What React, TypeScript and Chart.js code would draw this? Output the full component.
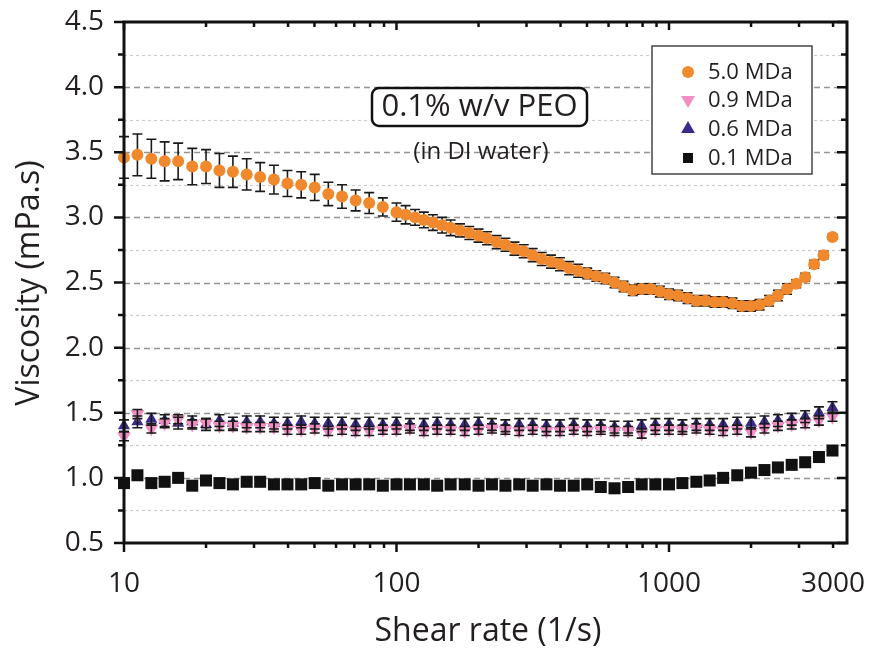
import React, { useEffect, useRef } from "react";
import { Chart, registerables } from "chart.js";

Chart.register(...registerables);

const FONT = "'Open Sans', 'Noto Sans', sans-serif";
const TEXT = "#231f20";

// Shear rates (1/s) for the 0.9, 0.6 and 0.1 MDa series
const xDense = [
  10, 11.2, 12.6, 14.1, 15.8, 17.8, 20, 22.4, 25.1, 28.2, 31.6, 35.5, 39.8, 44.7, 50.1, 56.2, 63.1, 70.8, 79.4, 89.1,
  100, 112, 126, 141, 158, 178, 200, 224, 251, 282, 316, 355, 398, 447, 501, 562, 631, 708, 794, 891,
  1000, 1120, 1260, 1410, 1580, 1780, 2000, 2240, 2510, 2820, 3160, 3550, 3980,
];
// Shear rates (1/s) for the 5.0 MDa series
const xOrange = [
  10, 11.2, 12.6, 14.1, 15.8, 17.8, 20, 22.4, 25.1, 28.2, 31.6, 35.5, 39.8, 44.7, 50.1, 56.2, 63.1, 70.8, 79.4, 89.1,
  100, 108, 117, 126, 136, 147, 158, 171, 185, 200, 215, 233, 251, 271, 293, 316, 341, 369, 398, 430,
  464, 501, 541, 584, 631, 681, 736, 794, 858, 926,
  1000, 1080, 1170, 1260, 1360, 1470, 1580, 1710, 1850, 2000, 2150, 2330, 2510, 2710, 2930, 3160, 3410, 3690, 3980,
];

const visc50 = [
  3.46, 3.48, 3.45, 3.43, 3.43, 3.39, 3.39, 3.36, 3.35, 3.33, 3.31, 3.29, 3.26, 3.25, 3.23, 3.18, 3.16, 3.13, 3.11, 3.08,
  3.04, 3.02, 3.0, 2.98, 2.96, 2.94, 2.92, 2.9, 2.88, 2.86, 2.84, 2.81, 2.79, 2.76, 2.74, 2.71, 2.68, 2.66, 2.64, 2.61,
  2.59, 2.57, 2.55, 2.53, 2.5, 2.47, 2.44, 2.45, 2.45, 2.43,
  2.41, 2.4, 2.38, 2.36, 2.36, 2.35, 2.35, 2.34, 2.32, 2.32, 2.33, 2.36, 2.4, 2.45, 2.49, 2.54, 2.64, 2.71, 2.85,
];
const err50 = [
  0.16, 0.16, 0.15, 0.15, 0.14, 0.14, 0.13, 0.13, 0.12, 0.12, 0.11, 0.11, 0.1, 0.1, 0.1, 0.09, 0.09, 0.08, 0.08, 0.07,
  0.07, 0.07, 0.06, 0.06, 0.06, 0.06, 0.06, 0.05, 0.05, 0.05, 0.05, 0.05, 0.05, 0.05, 0.05, 0.05, 0.05, 0.05, 0.05, 0.05,
  0.05, 0.04, 0.04, 0.04, 0.04, 0.04, 0.04, 0.04, 0.04, 0.04,
  0.04, 0.04, 0.04, 0.04, 0.04, 0.04, 0.04, 0.04, 0.04, 0.04, 0.04, 0.04, 0.04, 0.04, 0.03, 0.03, 0.03, 0.03, 0.02,
];
const visc09 = [
  1.32, 1.49, 1.38, 1.42, 1.45, 1.41, 1.42, 1.4, 1.4, 1.39, 1.39, 1.39, 1.37, 1.37, 1.38, 1.36, 1.37, 1.36, 1.36, 1.37,
  1.37, 1.38, 1.36, 1.37, 1.37, 1.36, 1.37, 1.38, 1.37, 1.36, 1.37, 1.36, 1.36, 1.37, 1.36, 1.37, 1.36, 1.36, 1.34, 1.37,
  1.37, 1.37, 1.38, 1.37, 1.36, 1.37, 1.35, 1.38, 1.4, 1.41, 1.42, 1.44, 1.47,
];
const visc06 = [
  1.4, 1.43, 1.45, 1.44, 1.42, 1.43, 1.41, 1.44, 1.42, 1.43, 1.43, 1.42, 1.42, 1.43, 1.42, 1.42, 1.42, 1.41, 1.42, 1.41,
  1.42, 1.41, 1.41, 1.42, 1.41, 1.41, 1.42, 1.41, 1.4, 1.41, 1.41, 1.4, 1.4, 1.41, 1.4, 1.4, 1.39, 1.39, 1.4, 1.41,
  1.41, 1.4, 1.41, 1.41, 1.41, 1.42, 1.42, 1.43, 1.44, 1.45, 1.47, 1.5, 1.54,
];
const visc01 = [
  0.96, 1.02, 0.96, 0.97, 1.0, 0.94, 0.98, 0.96, 0.95, 0.97, 0.97, 0.95, 0.95, 0.95, 0.96, 0.94, 0.95, 0.95, 0.95, 0.94,
  0.95, 0.95, 0.95, 0.94, 0.95, 0.95, 0.94, 0.95, 0.94, 0.95, 0.94, 0.95, 0.94, 0.94, 0.95, 0.93, 0.92, 0.93, 0.95, 0.95,
  0.95, 0.96, 0.97, 0.98, 1.0, 1.02, 1.04, 1.06, 1.08, 1.1, 1.12, 1.16, 1.21,
];
const err06 = 0.045;
const err09 = 0.035;

const yMajorTicks = [0.5, 1.0, 1.5, 2.0, 2.5, 3.0, 3.5, 4.0, 4.5];
const yMinorTicks = [0.75, 1.25, 1.75, 2.25, 2.75, 3.25, 3.75, 4.25];
const xTickValues = [10, 100, 1000, 4000];
const xTickLabels = ["10", "100", "1000", "3000"];
const xMajorMarks = [10, 100, 1000];
const xMinorMarks = [20, 30, 40, 50, 60, 70, 80, 90, 200, 300, 400, 500, 600, 700, 800, 900, 2000, 3000, 4000];

const seriesNames = ["5.0 MDa", "0.9 MDa", "0.6 MDa", "0.1 MDa"];
const seriesColors = ["#f0892e", "#f08dc3", "#3b2a8a", "#111111"];

function pts(xs: number[], ys: number[]) {
  return xs.map((x, i) => ({ x, y: ys[i] }));
}

function marker(ctx: CanvasRenderingContext2D, kind: string, x: number, y: number, r: number, color: string) {
  ctx.fillStyle = color;
  ctx.beginPath();
  if (kind === "circle") {
    ctx.arc(x, y, r, 0, Math.PI * 2);
  } else if (kind === "tri") {
    ctx.moveTo(x, y - r);
    ctx.lineTo(x + r * 0.866, y + r * 0.5);
    ctx.lineTo(x - r * 0.866, y + r * 0.5);
    ctx.closePath();
  } else if (kind === "itri") {
    ctx.moveTo(x, y + r);
    ctx.lineTo(x + r * 0.866, y - r * 0.5);
    ctx.lineTo(x - r * 0.866, y - r * 0.5);
    ctx.closePath();
  } else {
    ctx.rect(x - r, y - r, 2 * r, 2 * r);
  }
  ctx.fill();
}

function errBars(ctx: CanvasRenderingContext2D, sx: any, sy: any, xs: number[], ys: number[], errs: number[] | number, cap: number, lw: number) {
  ctx.strokeStyle = "#1a1a1a";
  ctx.lineWidth = lw;
  ctx.beginPath();
  xs.forEach((xv, i) => {
    const e = Array.isArray(errs) ? errs[i] : errs;
    const px = sx.getPixelForValue(xv);
    const top = sy.getPixelForValue(ys[i] + e);
    const bot = sy.getPixelForValue(ys[i] - e);
    ctx.moveTo(px, top);
    ctx.lineTo(px, bot);
    ctx.moveTo(px - cap, top);
    ctx.lineTo(px + cap, top);
    ctx.moveTo(px - cap, bot);
    ctx.lineTo(px + cap, bot);
  });
  ctx.stroke();
}

const decor = {
  id: "decor",
  beforeDatasetsDraw(chart: any) {
    const { ctx, chartArea: a, scales } = chart;
    const sx = scales.x;
    const sy = scales.y;
    ctx.save();
    const all = [...yMajorTicks.map((v) => [v, 1]), ...yMinorTicks.map((v) => [v, 0])];
    for (const [v, major] of all) {
      if (v <= 0.5 || v >= 4.5) continue;
      const py = Math.round(sy.getPixelForValue(v)) + 0.5;
      ctx.strokeStyle = major ? "#959595" : "#cccccc";
      ctx.lineWidth = major ? 1.5 : 1.2;
      ctx.setLineDash(major ? [6, 4] : [3, 3]);
      ctx.beginPath();
      ctx.moveTo(a.left, py);
      ctx.lineTo(a.right, py);
      ctx.stroke();
    }
    ctx.setLineDash([]);
    errBars(ctx, sx, sy, xOrange, visc50, err50, 5, 1.6);
    ctx.restore();
  },
  afterDatasetsDraw(chart: any) {
    const { ctx, chartArea: a, scales } = chart;
    const sx = scales.x;
    const sy = scales.y;
    ctx.save();
    errBars(ctx, sx, sy, xDense, visc06, err06, 5, 1.6);
    errBars(ctx, sx, sy, xDense, visc09, err09, 5, 1.6);

    // frame
    ctx.strokeStyle = "#111";
    ctx.lineWidth = 3;
    ctx.strokeRect(a.left, a.top, a.right - a.left, a.bottom - a.top);

    // tick marks
    ctx.lineWidth = 2.5;
    ctx.beginPath();
    for (const v of xMajorMarks) {
      const px = sx.getPixelForValue(v);
      ctx.moveTo(px, a.bottom);
      ctx.lineTo(px, a.bottom + 9);
      ctx.moveTo(px, a.top);
      ctx.lineTo(px, a.top + 8);
    }
    for (const v of xMinorMarks) {
      const px = sx.getPixelForValue(v);
      ctx.moveTo(px, a.bottom);
      ctx.lineTo(px, a.bottom + 5);
      ctx.moveTo(px, a.top);
      ctx.lineTo(px, a.top + 5);
    }
    for (const v of yMajorTicks) {
      const py = sy.getPixelForValue(v);
      ctx.moveTo(a.left - 10, py);
      ctx.lineTo(a.left, py);
      ctx.moveTo(a.right - 10, py);
      ctx.lineTo(a.right, py);
    }
    for (const v of yMinorTicks) {
      const py = sy.getPixelForValue(v);
      ctx.moveTo(a.left - 6, py);
      ctx.lineTo(a.left, py);
      ctx.moveTo(a.right - 6, py);
      ctx.lineTo(a.right, py);
    }
    ctx.stroke();

    // annotation
    ctx.fillStyle = "#fff";
    ctx.strokeStyle = "#111";
    ctx.lineWidth = 2.5;
    ctx.beginPath();
    (ctx as any).roundRect(372, 88, 215, 38, 7);
    ctx.fill();
    ctx.stroke();
    ctx.fillStyle = TEXT;
    ctx.textAlign = "center";
    ctx.textBaseline = "middle";
    ctx.font = `31px ${FONT}`;
    ctx.fillText("0.1% w/v PEO", 479.5, 107.5);
    ctx.font = `24px ${FONT}`;
    ctx.fillText("(in DI water)", 481, 152);

    // legend
    ctx.fillStyle = "#fff";
    ctx.fillRect(652, 46, 160, 128);
    ctx.strokeStyle = "#444";
    ctx.lineWidth = 1.5;
    ctx.strokeRect(652, 46, 160, 128);
    const rows = [72, 100, 129, 158];
    const kinds = ["circle", "itri", "tri", "rect"];
    const sizes = [6, 8, 8, 5];
    rows.forEach((ry, i) => {
      marker(ctx, kinds[i], 688, ry, sizes[i], seriesColors[i]);
      ctx.fillStyle = TEXT;
      ctx.textAlign = "left";
      ctx.textBaseline = "middle";
      ctx.font = `22px ${FONT}`;
      ctx.fillText(seriesNames[i], 708, ry + 1);
    });

    // axis titles
    ctx.fillStyle = TEXT;
    ctx.font = `32px ${FONT}`;
    ctx.textAlign = "center";
    ctx.textBaseline = "middle";
    ctx.fillText("Shear rate (1/s)", 488, 632);
    ctx.save();
    ctx.translate(30, 283);
    ctx.rotate(-Math.PI / 2);
    ctx.fillText("Viscosity (mPa.s)", 0, 0);
    ctx.restore();
    ctx.restore();
  },
};

export default function App() {
  const ref = useRef<HTMLCanvasElement>(null);
  useEffect(() => {
    const chart = new Chart(ref.current as HTMLCanvasElement, {
      type: "scatter",
      data: {
        datasets: [
          {
            label: seriesNames[0],
            data: pts(xOrange, visc50),
            pointStyle: "circle",
            pointRadius: 6,
            backgroundColor: seriesColors[0],
            borderWidth: 0,
            order: 1,
            clip: false,
          },
          {
            label: seriesNames[1],
            data: pts(xDense, visc09),
            pointStyle: "triangle",
            rotation: 180,
            pointRadius: 8,
            backgroundColor: seriesColors[1],
            borderWidth: 0,
            order: 2,
            clip: false,
          },
          {
            label: seriesNames[2],
            data: pts(xDense, visc06),
            pointStyle: "triangle",
            pointRadius: 7,
            backgroundColor: seriesColors[2],
            borderWidth: 0,
            order: 3,
            clip: false,
          },
          {
            label: seriesNames[3],
            data: pts(xDense, visc01),
            pointStyle: "rect",
            pointRadius: 8.5,
            backgroundColor: seriesColors[3],
            borderWidth: 0,
            order: 4,
            clip: false,
          },
        ] as any,
      },
      options: {
        responsive: false,
        animation: false,
        devicePixelRatio: 1,
        layout: { padding: { top: 22, right: 23, left: 0, bottom: 0 } },
        plugins: { legend: { display: false }, tooltip: { enabled: false } },
        scales: {
          x: {
            type: "logarithmic",
            min: 10,
            max: 4500,
            grid: { display: false, drawTicks: false },
            border: { display: false },
            afterBuildTicks: (scale: any) => {
              scale.ticks = xTickValues.map((v) => ({ value: v }));
            },
            afterFit: (scale: any) => {
              scale.height = 109;
              scale.paddingLeft = 0;
              scale.paddingRight = 0;
            },
            ticks: {
              autoSkip: false,
              maxRotation: 0,
              padding: 24,
              color: TEXT,
              font: { family: FONT, size: 28 },
              callback: (v: any) => {
                const i = xTickValues.indexOf(Number(v));
                return i >= 0 ? xTickLabels[i] : "";
              },
            },
          },
          y: {
            type: "linear",
            min: 0.5,
            max: 4.5,
            grid: { display: false, drawTicks: false },
            border: { display: false },
            afterFit: (scale: any) => {
              scale.width = 124;
              scale.paddingTop = 0;
              scale.paddingBottom = 0;
            },
            ticks: {
              stepSize: 0.5,
              padding: 20,
              color: TEXT,
              font: { family: FONT, size: 28 },
              callback: (v: any) => Number(v).toFixed(1),
            },
          },
        },
      },
      plugins: [decor],
    } as any);
    return () => chart.destroy();
  }, []);
  return (
    <div style={{ position: "fixed", left: 0, top: 0, width: 870, height: 652, background: "#fff" }}>
      <canvas ref={ref} width={870} height={652} style={{ display: "block" }} />
    </div>
  );
}
